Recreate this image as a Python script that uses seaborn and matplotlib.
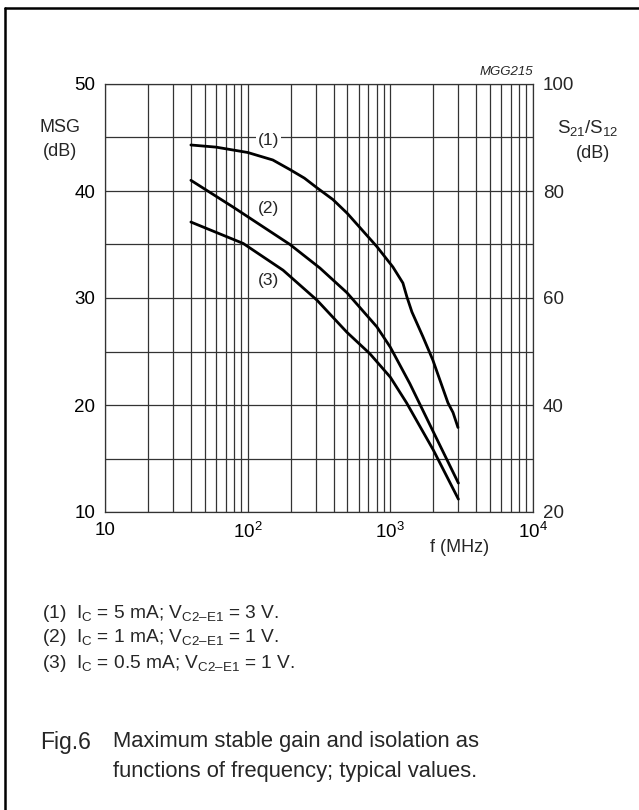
import matplotlib
matplotlib.use("Agg")
import matplotlib.pyplot as plt
import seaborn as sns
import pandas as pd
from matplotlib.lines import Line2D

# ------------------------------------------------------- #
#                 DATOS                #
# ------------------------------------------------------- #
freq_1 = [40, 60, 100, 150, 198, 250, 306, 396, 500, 805, 1042, 1225, 1307, 1416, 1690,
          1986, 2535, 2750, 2980]
msg_1 = [44.3, 44.1, 43.6, 42.9, 42.0, 41.2, 40.3, 39.2, 37.9, 34.8, 32.9, 31.4, 30.1, 28.7,
         26.4, 24.2, 20.2, 19.3, 17.9]

freq_2 = [40, 79, 198, 321, 496, 805, 1000, 1370, 2000, 3000]
msg_2 = [41.0, 38.5, 35.0, 32.8, 30.5, 27.3, 25.4, 22.0, 17.5, 12.7]

freq_3 = [40, 93, 177, 306, 496, 718, 1000, 1300, 2000, 3000]
msg_3 = [37.1, 35.1, 32.6, 29.8, 26.8, 24.8, 22.6, 20.2, 15.8, 11.2]

curve_labels = ["(1)", "(2)", "(3)"]
notes = [
    r"(1)  I$_\mathregular{C}$ = 5 mA; V$_\mathregular{C2–E1}$ = 3 V.",
    r"(2)  I$_\mathregular{C}$ = 1 mA; V$_\mathregular{C2–E1}$ = 1 V.",
    r"(3)  I$_\mathregular{C}$ = 0.5 mA; V$_\mathregular{C2–E1}$ = 1 V.",
]
xtick_vals = [10, 100, 1000, 10000]
xtick_labels = ["10", r"10$^\mathregular{2}$", r"10$^\mathregular{3}$", r"10$^\mathregular{4}$"]

df = pd.concat([
    pd.DataFrame({"f": freq_1, "msg": msg_1, "curva": "(1)"}),
    pd.DataFrame({"f": freq_2, "msg": msg_2, "curva": "(2)"}),
    pd.DataFrame({"f": freq_3, "msg": msg_3, "curva": "(3)"}),
])

# ------------------------------------------------------- #
#                         ESTILO                          #
# ------------------------------------------------------- #
sns.set_style("white")
plt.rcParams["font.family"] = ["Liberation Sans", "DejaVu Sans"]
plt.rcParams["mathtext.fontset"] = "custom"
plt.rcParams["mathtext.rm"] = "Liberation Sans"
plt.rcParams["mathtext.it"] = "Liberation Sans:italic"

W, H = 639, 810
fig = plt.figure(figsize=(W / 100, H / 100), dpi=100)
ax = fig.add_axes([105 / W, 1 - 512 / H, 428 / W, 428 / H])

sns.lineplot(data=df, x="f", y="msg", hue="curva", units="curva", estimator=None,
             palette=["black"] * 3, linewidth=2.0, legend=False, ax=ax, sort=False)

ax.set_xscale("log")
ax.set_xlim(10, 10000)
ax.set_ylim(10, 50)
ax.set_yticks([10, 20, 30, 40, 50])
ax.set_yticks([15, 25, 35, 45], minor=True)
ax.set_xticks(xtick_vals)
ax.set_xticklabels(xtick_labels)
ax.grid(True, which="both", color="#333333", linewidth=0.9)
ax.set_axisbelow(True)
ax.tick_params(which="both", length=0, labelsize=13.5, colors="black", pad=7)
ax.set_xlabel("")
ax.set_ylabel("")
for s in ax.spines.values():
    s.set_color("#333333")
    s.set_linewidth(0.9)

ax2 = ax.twinx()
ax2.set_ylim(20, 100)
ax2.set_yticks([20, 40, 60, 80, 100])
ax2.tick_params(length=0, labelsize=13.5, pad=7)
for s in ax2.spines.values():
    s.set_visible(False)

# etiquetas de las curvas (con fondo blanco sobre la rejilla)
label_pos = [(140, 44.7), (140, 38.4), (140, 31.6)]
for lab, (xf, yv) in zip(curve_labels, label_pos):
    ax.text(xf, yv, lab, fontsize=12.5, ha="center", va="center",
            bbox=dict(facecolor="white", edgecolor="none", pad=1.5))

# textos de ejes
fig.text(60 / W, 1 - 128 / H, "MSG", fontsize=13, ha="center", va="center")
fig.text(60 / W, 1 - 151 / H, "(dB)", fontsize=13, ha="center", va="center")
fig.text(588 / W, 1 - 128 / H, r"S$_\mathregular{21}$/S$_\mathregular{12}$", fontsize=13.5,
         ha="center", va="center")
fig.text(593 / W, 1 - 153 / H, "(dB)", fontsize=13, ha="center", va="center")
fig.text(460 / W, 1 - 547 / H, "f (MHz)", fontsize=13, ha="center", va="center")
fig.text(533 / W, 1 - 72 / H, "MGG215", fontsize=9.5, style="italic", ha="right", va="center")

# notas de condiciones
for i, n in enumerate(notes):
    fig.text(42 / W, 1 - (613 + 25 * i) / H, n, fontsize=13.8, ha="left", va="center")

# pie de figura
fig.text(40 / W, 1 - 742 / H, "Fig.6", fontsize=16.5, ha="left", va="center")
fig.text(113 / W, 1 - 742 / H, "Maximum stable gain and isolation as", fontsize=15.8,
         ha="left", va="center")
fig.text(113 / W, 1 - 772 / H, "functions of frequency; typical values.", fontsize=15.8,
         ha="left", va="center")

# marco exterior
fig.add_artist(Line2D([5 / W, 5 / W], [0, 1 - 8 / H], color="black", linewidth=1.8,
                      transform=fig.transFigure))
fig.add_artist(Line2D([5 / W, 1], [1 - 8 / H, 1 - 8 / H], color="black", linewidth=1.8,
                      transform=fig.transFigure))

fig.savefig("out.png", dpi=100)
